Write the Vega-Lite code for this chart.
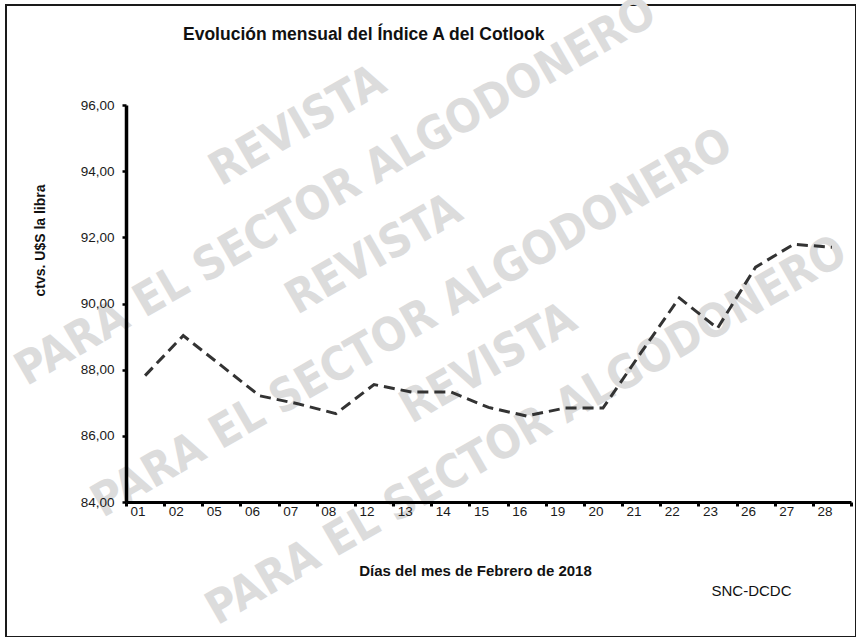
{
  "$schema": "https://vega.github.io/schema/vega-lite/v6.json",
  "width": 850,
  "height": 632,
  "autosize": {"type": "none"},
  "padding": {"left": 6, "top": 5, "right": 0, "bottom": 0},
  "background": "white",
  "config": {
    "locale": {"number": {"decimal": ",", "thousands": ".", "grouping": [3], "currency": ["$", ""]}},
    "view": {"stroke": "#1a1a1a", "strokeWidth": 2},
    "font": "Liberation Sans",
    "axis": {"grid": false, "labelFont": "Liberation Sans", "titleFont": "Liberation Sans", "labelColor": "#1a1a1a", "titleColor": "#111111"}
  },
  "title": {
    "text": "Evolución mensual del Índice A del Cotlook",
    "orient": "none",
    "anchor": "start",
    "align": "left",
    "frame": "group",
    "dx": 177,
    "dy": 30,
    "baseline": "middle",
    "fontSize": 17.5,
    "fontWeight": "bold",
    "color": "#111111",
    "font": "Liberation Sans"
  },
  "resolve": {"axis": {"y": "independent"}},
  "layer": [
    {
      "data": {"values": [
        {"texto": "REVISTA", "dia": "07", "valor": 95.36},
        {"texto": "PARA EL SECTOR ALGODONERO", "dia": "08", "valor": 93.38},
        {"texto": "REVISTA", "dia": "12", "valor": 91.48},
        {"texto": "PARA EL SECTOR ALGODONERO", "dia": "13", "valor": 89.40},
        {"texto": "REVISTA", "dia": "15", "valor": 88.18},
        {"texto": "PARA EL SECTOR ALGODONERO", "dia": "16", "valor": 86.15}
      ]},
      "mark": {"type": "text", "angle": -30, "font": "DejaVu Sans Condensed", "fontWeight": "bold", "fontSize": 46, "color": "#dcdcdc", "align": "center", "baseline": "middle"},
      "encoding": {
        "x": {"field": "dia", "type": "ordinal", "title": "Días del mes de Febrero de 2018",
              "scale": {"domain": ["01","02","05","06","07","08","12","13","14","15","16","19","20","21","22","23","26","27","28"], "range": [120, 845], "paddingInner": 0, "paddingOuter": 0}},
        "y": {"field": "valor", "type": "quantitative",
              "scale": {"domain": [84, 96], "range": [497, 100], "nice": false, "zero": false},
              "axis": {"orient": "right", "title": "SNC-DCDC", "labels": false, "ticks": false, "domain": false, "grid": false,
                       "titleAngle": 0, "titleX": -105, "titleY": 585, "titleAlign": "center", "titleBaseline": "middle",
                       "titleFontSize": 15, "titleFontWeight": "normal", "zindex": 1}},
        "text": {"field": "texto"}
      }
    },
    {
      "data": {"values": [
        {"dia": "01", "valor": 87.82},
        {"dia": "02", "valor": 89.03},
        {"dia": "05", "valor": 88.12},
        {"dia": "06", "valor": 87.21},
        {"dia": "07", "valor": 86.97},
        {"dia": "08", "valor": 86.67},
        {"dia": "12", "valor": 87.55},
        {"dia": "13", "valor": 87.32},
        {"dia": "14", "valor": 87.33},
        {"dia": "15", "valor": 86.86},
        {"dia": "16", "valor": 86.60},
        {"dia": "19", "valor": 86.84},
        {"dia": "20", "valor": 86.84},
        {"dia": "21", "valor": 88.52},
        {"dia": "22", "valor": 90.17},
        {"dia": "23", "valor": 89.25},
        {"dia": "26", "valor": 91.10},
        {"dia": "27", "valor": 91.79},
        {"dia": "28", "valor": 91.70}
      ]},
      "mark": {"type": "line", "color": "#333333", "strokeWidth": 3, "strokeDash": [11, 6]},
      "encoding": {
        "x": {"field": "dia", "type": "ordinal", "title": "Días del mes de Febrero de 2018",
              "axis": {"orient": "bottom", "offset": -135, "tickBand": "extent", "labelAngle": 0, "zindex": 1,
                       "domainWidth": 3, "domainColor": "#000000", "tickColor": "#000000", "tickWidth": 3, "tickSize": 4,
                       "labelFontSize": 13.5, "labelPadding": 5,
                       "titleFontSize": 15, "titleFontWeight": "bold", "titleX": 469, "titleY": 68,
                       "titleAlign": "center", "titleBaseline": "middle"}},
        "y": {"field": "valor", "type": "quantitative",
              "axis": {"orient": "left", "offset": -120, "values": [84, 86, 88, 90, 92, 94, 96], "format": ".2f", "zindex": 1,
                       "domainWidth": 3.5, "domainColor": "#000000", "tickColor": "#000000", "tickWidth": 2.5, "tickSize": 4,
                       "labelFontSize": 13.5, "labelPadding": 8,
                       "title": "ctvs. U$S la libra", "titleFontSize": 14, "titleFontWeight": "bold",
                       "titleX": -86, "titleY": 235, "titleAlign": "center", "titleBaseline": "middle", "titleAngle": -90}}
      }
    }
  ]
}
